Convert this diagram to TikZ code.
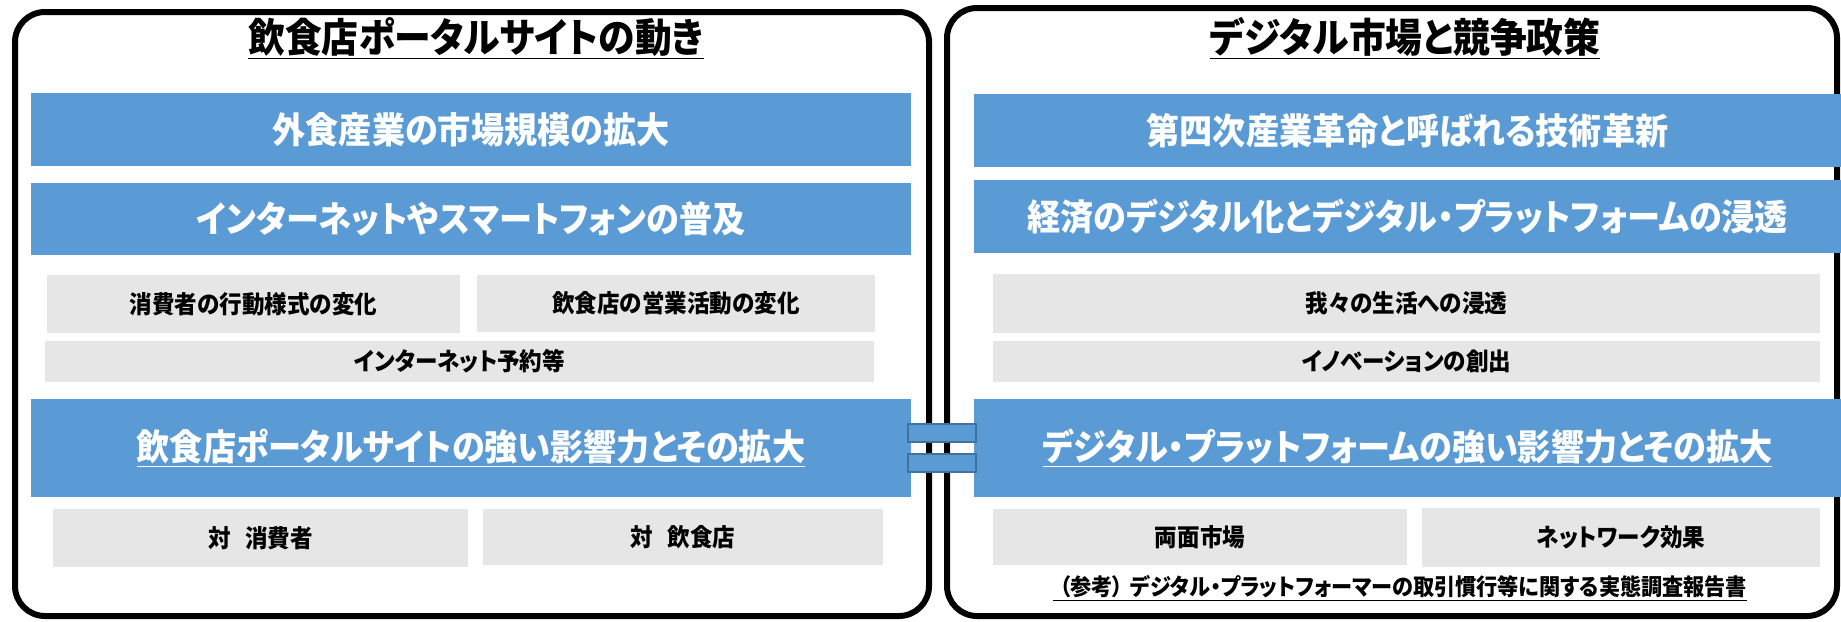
\documentclass[tikz,border=0pt]{standalone}
\usepackage{fontspec}
\setmainfont{Noto Sans CJK JP}[RawFeature=+palt, FakeStretch=0.92]
\definecolor{barblue}{HTML}{5B9BD5}
\definecolor{bargray}{HTML}{E7E6E6}
\definecolor{edgeblue}{HTML}{41719C}

\begin{document}
\begin{tikzpicture}[x=1pt, y=-1pt,
    frame/.style={draw, line width=6pt, rounded corners=30pt},
    heading/.style={font=\bfseries\fontsize{40}{44}\selectfont},
    bluebar/.style={fill=barblue, text=white, inner sep=0pt,
      font=\bfseries\fontsize{36}{42}\selectfont},
    graybar/.style={fill=bargray, inner sep=0pt,
      font=\bfseries\fontsize{24.5}{28}\selectfont},
    eqbar/.style={fill=barblue, draw=edgeblue, line width=2pt,
      minimum width=68pt, minimum height=18pt, inner sep=0pt}
    ]
    \useasboundingbox (0,0) rectangle (1841,621);

    % two panels
    \draw[frame] (15,12) rectangle (929,616);
    \draw[frame] (947,8) rectangle (1837,616);

    % left panel
    \node[heading] (leftTitle) at (476,38) {\underline{飲食店ポータルサイトの動き}};
    \node[bluebar, minimum width=880pt, minimum height=73pt] (market) at (471,129.5) {外食産業の市場規模の拡大};
    \node[bluebar, minimum width=880pt, minimum height=72pt] (internet) at (471,219) {インターネットやスマートフォンの普及};
    \node[graybar, minimum width=413pt, minimum height=58pt] (consumer) at (253.5,304) {消費者の行動様式の変化};
    \node[graybar, minimum width=398pt, minimum height=57pt] (restaurant) at (676,303.5) {飲食店の営業活動の変化};
    \node[graybar, minimum width=829pt, minimum height=41pt] (reserve) at (459.5,361.5) {インターネット予約等};
    \node[bluebar, minimum width=880pt, minimum height=98pt] (portal) at (471,448) {\underline{飲食店ポータルサイトの強い影響力とその拡大}};
    \node[graybar, minimum width=415pt, minimum height=58pt] (vsConsumer) at (260.5,538) {対\hspace{0.6em}消費者};
    \node[graybar, minimum width=400pt, minimum height=56pt] (vsRestaurant) at (683,537) {対\hspace{0.6em}飲食店};

    % right panel
    \node[heading] (rightTitle) at (1405,38) {\underline{デジタル市場と競争政策}};
    \node[bluebar, minimum width=867pt, minimum height=73pt] (revolution) at (1407.5,130.5) {第四次産業革命と呼ばれる技術革新};
    \node[bluebar, minimum width=867pt, minimum height=73pt] (digitize) at (1407.5,216.5) {経済のデジタル化とデジタル・プラットフォームの浸透};
    \node[graybar, minimum width=827pt, minimum height=59pt] (life) at (1406.5,303.5) {我々の生活への浸透};
    \node[graybar, minimum width=827pt, minimum height=41pt] (innovation) at (1406.5,361.5) {イノベーションの創出};
    \node[bluebar, minimum width=867pt, minimum height=98pt] (platform) at (1407.5,448) {\underline{デジタル・プラットフォームの強い影響力とその拡大}};
    \node[graybar, minimum width=414pt, minimum height=56pt] (twoSided) at (1200,537) {両面市場};
    \node[graybar, minimum width=398pt, minimum height=59pt] (network) at (1621,537.5) {ネットワーク効果};
    \node[font=\bfseries\fontsize{23}{26}\selectfont] (report) at (1400,588) {\underline{\hspace{0.3em}（参考）\hspace{0.3em}デジタル・プラットフォーマーの取引慣行等に関する実態調査報告書}};

    % equal sign between the two panels
    \node[eqbar] (eqTop) at (942,433) {};
    \node[eqbar] (eqBottom) at (942,463) {};
  \end{tikzpicture}
\end{document}
